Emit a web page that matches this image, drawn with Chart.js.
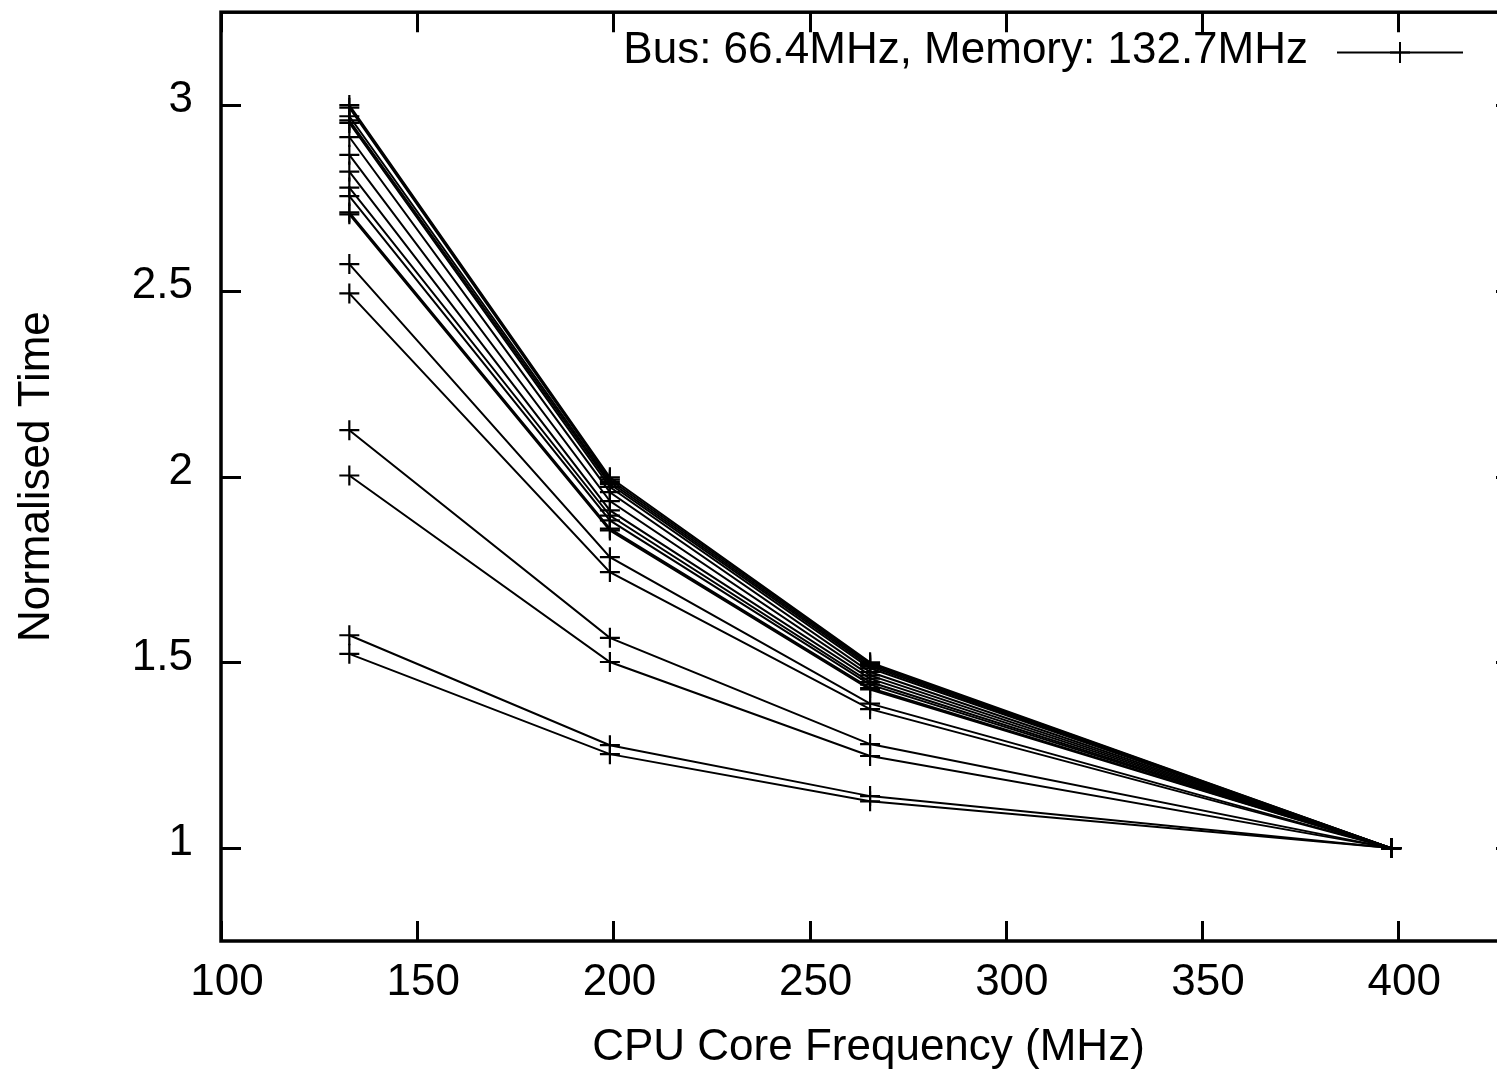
<!DOCTYPE html>
<html>
<head>
<meta charset="utf-8">
<script src="https://cdn.jsdelivr.net/npm/chart.js@4/dist/chart.umd.min.js"></script>
<style>
html,body{margin:0;padding:0;background:#fff;overflow:hidden;width:1497px;height:1077px}
canvas{display:block}
</style>
</head>
<body>
<canvas id="c" width="1540" height="1077" style="width:1540px;height:1077px"></canvas>
<script>
// ---- data ----
const cpuFreq = [132.7, 199.1, 265.4, 398.2];
const s01 = [3.000, 1.998, 1.500, 1];
const s02 = [2.993, 1.992, 1.497, 1];
const s03 = [2.970, 1.986, 1.493, 1];
const s04 = [2.959, 1.980, 1.489, 1];
const s05 = [2.952, 1.972, 1.484, 1];
const s06 = [2.914, 1.958, 1.474, 1];
const s07 = [2.866, 1.934, 1.465, 1];
const s08 = [2.821, 1.909, 1.456, 1];
const s09 = [2.778, 1.895, 1.447, 1];
const s10 = [2.755, 1.882, 1.440, 1];
const s11 = [2.711, 1.860, 1.431, 1];
const s12 = [2.706, 1.855, 1.427, 1];
const s13 = [2.572, 1.783, 1.389, 1];
const s14 = [2.493, 1.743, 1.374, 1];
const s15 = [2.125, 1.566, 1.280, 1];
const s16 = [2.003, 1.501, 1.248, 1];
const s17 = [1.573, 1.277, 1.140, 1];
const s18 = [1.523, 1.253, 1.126, 1];
const legendLabel = 'Bus: 66.4MHz, Memory: 132.7MHz';
const xTicks = [100, 150, 200, 250, 300, 350, 400];
const yTicks = [1, 1.5, 2, 2.5, 3];
const xTitle = 'CPU Core Frequency (MHz)';
const yTitle = 'Normalised Time';

const allSeries = [s01,s02,s03,s04,s05,s06,s07,s08,s09,s10,s11,s12,s13,s14,s15,s16,s17,s18];
const FONT = '"Liberation Sans", Arial, sans-serif';

const datasets = allSeries.map((s, i) => ({
  label: i === 0 ? legendLabel : '',
  data: s.map((v, j) => ({x: cpuFreq[j], y: v})),
  borderColor: '#000',
  backgroundColor: '#000',
  borderWidth: 2,
  pointStyle: 'cross',
  pointRadius: 10,
  pointBorderWidth: 2.2,
  pointBorderColor: '#000',
  fill: false,
  tension: 0
}));

const framePlugin = {
  id: 'frame',
  afterDraw(chart) {
    const {ctx, chartArea: a, scales} = chart;
    ctx.save();
    ctx.strokeStyle = '#000';
    // ticks (inward, mirrored)
    ctx.lineWidth = 3;
    const tl = 20;
    xTicks.forEach(v => {
      const px = Math.round(scales.x.getPixelForValue(v)) + 0.5;
      ctx.beginPath();
      ctx.moveTo(px, a.bottom); ctx.lineTo(px, a.bottom - tl);
      ctx.moveTo(px, a.top); ctx.lineTo(px, a.top + tl);
      ctx.stroke();
    });
    yTicks.forEach(v => {
      const py = Math.round(scales.y.getPixelForValue(v)) + 0.5;
      ctx.beginPath();
      ctx.moveTo(a.left, py); ctx.lineTo(a.left + tl, py);
      ctx.moveTo(a.right, py); ctx.lineTo(a.right - tl, py);
      ctx.stroke();
    });
    // border
    ctx.lineWidth = 3.5;
    ctx.strokeRect(a.left, a.top, a.right - a.left, a.bottom - a.top);
    // key
    const label = chart.data.datasets[0].label;
    ctx.fillStyle = '#000';
    ctx.font = '44px ' + FONT;
    ctx.textAlign = 'right';
    ctx.textBaseline = 'middle';
    ctx.fillText(label, 1308, 51);
    ctx.lineWidth = 1.8;
    ctx.beginPath();
    ctx.moveTo(1337, 52.5); ctx.lineTo(1463, 52.5);
    ctx.stroke();
    ctx.lineWidth = 2;
    ctx.beginPath();
    ctx.moveTo(1400, 42); ctx.lineTo(1400, 63);
    ctx.moveTo(1390, 52.5); ctx.lineTo(1410, 52.5);
    ctx.stroke();
    ctx.restore();
  }
};

new Chart(document.getElementById('c'), {
  type: 'line',
  data: {datasets},
  plugins: [framePlugin],
  options: {
    responsive: false,
    animation: false,
    devicePixelRatio: 1,
    layout: {padding: {top: 10, right: 24, left: 0, bottom: 0}},
    plugins: {legend: {display: false}, tooltip: {enabled: false}},
    scales: {
      x: {
        type: 'linear',
        min: 100, max: 430,
        afterBuildTicks: s => { s.ticks = xTicks.map(v => ({value: v})); },
        afterFit: s => { s.height = 136; s.paddingLeft = 0; s.paddingRight = 0; },
        grid: {display: false, drawTicks: false},
        border: {display: false},
        ticks: {
          color: '#000', font: {family: FONT, size: 44, lineHeight: 1.2},
          padding: 15, labelOffset: 6, maxRotation: 0, autoSkip: false,
          callback: v => String(v)
        },
        title: {
          display: true, text: xTitle, color: '#000',
          font: {family: FONT, size: 44, lineHeight: 1.2},
          padding: {top: 0, bottom: 3}
        }
      },
      y: {
        type: 'linear',
        min: 0.75, max: 3.25,
        afterBuildTicks: s => { s.ticks = yTicks.map(v => ({value: v})); },
        afterFit: s => { s.width = 221; s.paddingTop = 0; s.paddingBottom = 0; },
        grid: {display: false, drawTicks: false},
        border: {display: false},
        ticks: {
          color: '#000', font: {family: FONT, size: 44, lineHeight: 1.2},
          padding: 28, labelOffset: -5, autoSkip: false,
          callback: v => String(v)
        },
        title: {
          display: true, text: yTitle, color: '#000',
          font: {family: FONT, size: 44, lineHeight: 1.2},
          padding: {top: 10, bottom: 0}
        }
      }
    }
  }
});
</script>
</body>
</html>
